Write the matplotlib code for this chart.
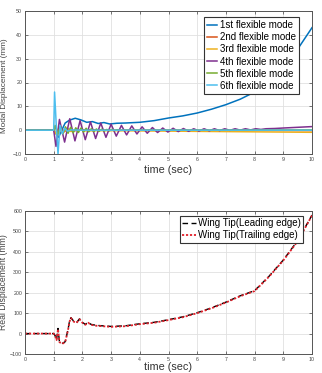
import matplotlib
matplotlib.use("Agg")
import matplotlib.pyplot as plt

# ---------------- data ----------------
t_mode1 = [0, 1.0, 1.08, 1.17, 1.28, 1.4, 1.55, 1.75, 1.95, 2.15, 2.35, 2.55, 2.75, 2.95,
           3.2, 3.5, 4.0, 4.5, 5.0, 5.5, 6.0, 6.5, 7.0, 7.5, 8.0, 8.5, 9.0, 9.5, 10.0]
mode1 = [0, 0, -1.5, -3.0, 0.0, 3.0, 4.2, 5.0, 4.3, 3.3, 3.6, 2.8, 3.2, 2.6,
         2.9, 3.0, 3.3, 4.0, 5.1, 6.0, 7.2, 8.8, 10.7, 13.0, 16.0, 20.5, 26.0, 34.0, 43.0]

t_mode2 = [0, 1.0, 1.06, 1.15, 1.25, 1.35, 1.5, 1.7, 2.0, 3.0, 5.0, 8.0, 10.0]
mode2 = [0, 0, 1.5, -1.5, 1.0, -0.8, 0.5, -0.3, 0.2, 0.0, 0.0, -0.1, -0.2]

t_mode3 = [0, 1.0, 1.08, 1.18, 1.3, 1.45, 1.6, 1.8, 2.1, 2.5, 3.0, 4.0, 5.0, 6.0, 7.0, 8.0, 9.0, 10.0]
mode3 = [0, 0, -1.5, 1.0, -1.2, 0.8, -0.6, 0.4, -0.3, -0.2, -0.2, -0.3, -0.4, -0.5, -0.6, -0.7, -0.8, -0.9]

t_mode4 = [0, 1.0, 1.08, 1.2, 1.38, 1.56, 1.74, 1.92, 2.1, 2.28, 2.46, 2.64, 2.82, 3.0,
           3.18, 3.36, 3.54, 3.72, 3.9, 4.08, 4.26, 4.44, 4.62, 4.8, 4.98, 5.16, 5.34,
           5.52, 5.7, 5.88, 6.06, 6.24, 6.42, 6.6, 6.78, 6.96, 7.14, 7.32, 7.5, 7.68,
           7.86, 8.04, 8.22, 8.4, 8.7, 9.0, 9.5, 10.0]
mode4 = [0, 0, -6.8, 4.5, -5.0, 4.8, -4.5, 4.0, -4.0, 3.5, -3.5, 3.0, -3.0, 2.5,
         -2.5, 2.0, -2.0, 1.8, -1.6, 1.4, -1.3, 1.1, -1.0, 0.9, -0.8, 0.8, -0.6,
         0.7, -0.5, 0.6, -0.4, 0.6, -0.3, 0.6, -0.2, 0.6, -0.1, 0.6, 0.0, 0.6,
         0.1, 0.6, 0.3, 0.6, 0.7, 0.9, 1.2, 1.5]

t_mode5 = [0, 1.0, 1.05, 1.14, 1.23, 1.32, 1.41, 1.5, 1.59, 1.68, 1.77, 1.86, 1.95,
           2.04, 2.13, 2.22, 2.31, 2.4, 2.49, 2.58, 2.67, 2.76, 2.85, 2.94, 3.03,
           3.12, 3.21, 3.3, 3.5, 4.0, 6.0, 8.0, 10.0]
mode5 = [0, 0, 2.0, -2.0, 1.6, -1.5, 1.4, -1.3, 1.2, -1.1, 1.0, -1.0, 0.9,
         -0.8, 0.8, -0.7, 0.6, -0.6, 0.5, -0.5, 0.4, -0.4, 0.3, -0.3, 0.3,
         -0.2, 0.2, -0.1, 0.0, 0.0, 0.0, 0.0, 0.1]

t_mode6 = [0, 1.0, 1.03, 1.09, 1.15, 1.22, 1.3, 1.38, 1.48, 1.6, 2.0, 10.0]
mode6 = [0, 0, 16.0, 2.0, -10.0, 2.0, -1.5, 0.8, -0.4, 0.1, 0.0, 0.0]

t_tip = [0, 1.0, 1.05, 1.1, 1.15, 1.2, 1.3, 1.4, 1.5, 1.55, 1.6, 1.7, 1.8, 1.9, 2.0,
         2.1, 2.2, 2.3, 2.5, 2.7, 3.0, 3.5, 4.0, 4.5, 5.0, 5.5, 6.0, 6.5, 7.0, 7.5,
         8.0, 8.5, 9.0, 9.5, 10.0]
tip_leading = [0, 0, -10, -30, 25, -40, -48, -40, 20, 60, 78, 60, 55, 72, 55,
               45, 55, 45, 40, 38, 35, 38, 48, 55, 68, 82, 102, 126, 154, 185,
               210, 280, 360, 455, 580]
tip_trailing = [0, 0, -12, -32, 22, -42, -50, -42, 18, 58, 76, 58, 53, 70, 53,
                43, 53, 43, 38, 36, 33, 36, 46, 53, 66, 80, 100, 124, 152, 183,
                208, 278, 358, 452, 578]

mode_labels = ["1st flexible mode", "2nd flexible mode", "3rd flexible mode",
               "4th flexible mode", "5th flexible mode", "6th flexible mode"]
tip_labels = ["Wing Tip(Leading edge)", "Wing Tip(Trailing edge)"]
x_ticks = list(range(0, 11))
top_yticks = [-10, 0, 10, 20, 30, 40, 50]
bot_yticks = [-100, 0, 100, 200, 300, 400, 500, 600]

colors = ["#0072BD", "#D95319", "#EDB120", "#7E2F8E", "#77AC30", "#4DBEEE"]

plt.rcParams['font.family'] = ['Liberation Sans', 'DejaVu Sans']

fig = plt.figure(figsize=(3.22, 3.73), dpi=100)
W, H = 322, 373
ax1 = fig.add_axes([25 / W, 1 - 154 / H, (312 - 25) / W, (154 - 11) / H])
ax2 = fig.add_axes([25 / W, 1 - 354 / H, (312 - 25) / W, (354 - 211) / H])

series = [(t_mode1, mode1), (t_mode2, mode2), (t_mode3, mode3),
          (t_mode4, mode4), (t_mode5, mode5), (t_mode6, mode6)]
for (t, y), c, lab in zip(series, colors, mode_labels):
    ax1.plot(t, y, color=c, lw=1.1, label=lab)
ax1.set_xlim(0, 10)
ax1.set_ylim(-10, 50)
ax1.set_yticks(top_yticks)
leg1 = ax1.legend(loc="upper right", fontsize=7, handlelength=1.0, handletextpad=0.3,
                  labelspacing=0.22, borderpad=0.3, fancybox=False, framealpha=1,
                  edgecolor="#333333", bbox_to_anchor=(0.97, 0.99))
leg1.get_frame().set_linewidth(0.8)
ax1.set_ylabel("Modal Displacement (mm)", fontsize=5.9, color="#444444")

ax2.plot(t_tip, tip_leading, color="black", lw=1.0, ls=(0, (4, 2.5)), label=tip_labels[0])
ax2.plot(t_tip, tip_trailing, color="#E0202A", lw=1.3, ls=(0, (1.2, 1.0)), label=tip_labels[1])
ax2.set_xlim(0, 10)
ax2.set_ylim(-100, 600)
ax2.set_yticks(bot_yticks)
leg2 = ax2.legend(loc="upper right", fontsize=7, handlelength=1.4, handletextpad=0.2,
                  labelspacing=0.22, borderpad=0.25, fancybox=False, framealpha=1,
                  edgecolor="#333333", bbox_to_anchor=(0.985, 1.0))
leg2.get_frame().set_linewidth(0.8)
ax2.set_ylabel("Real Displacement (mm)", fontsize=6.2, color="#444444")

for ax in (ax1, ax2):
    ax.set_xticks(x_ticks)
    ax.grid(True, color="#E0E0E0", lw=0.6)
    ax.tick_params(labelsize=3.8, colors="#444444", length=2, width=0.5, direction="in",
                   pad=2, top=True, right=True)
    for s in ax.spines.values():
        s.set_color("#555555")
        s.set_linewidth(0.7)
    ax.set_xlabel("time (sec)", fontsize=7.8, color="#333333")
    ax.yaxis.set_label_coords(-0.058, 0.5)

ax1.yaxis.set_label_coords(-0.058, 0.48)
ax1.xaxis.set_label_coords(0.5, -0.075)
ax2.xaxis.set_label_coords(0.5, -0.055)

fig.savefig("out.png", dpi=100, facecolor="white")
